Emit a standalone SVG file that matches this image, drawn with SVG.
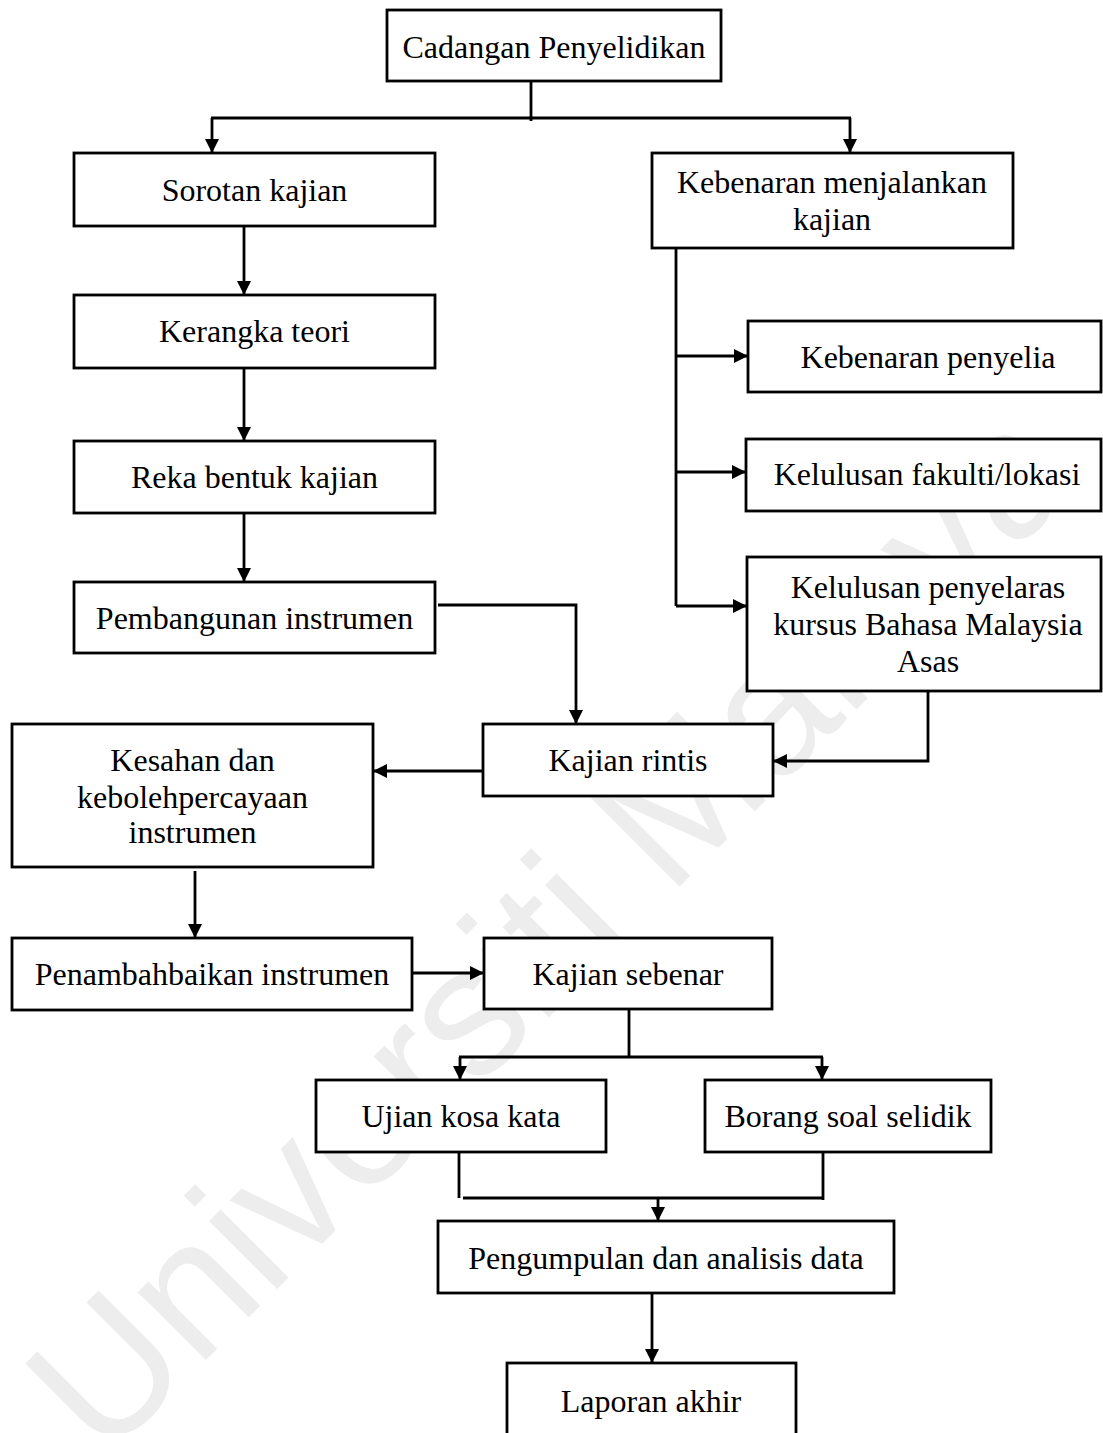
<svg xmlns="http://www.w3.org/2000/svg" width="1103" height="1433" viewBox="0 0 1103 1433">
<defs>
<marker id="ah" markerWidth="14" markerHeight="14" refX="14" refY="7" orient="auto" markerUnits="userSpaceOnUse">
<path d="M0,0 L14,7 L0,14 Z" fill="#000"/>
</marker>
<style>
.box{fill:#fff;stroke:#000;stroke-width:2.8}
.t{font-family:"Liberation Serif","Times New Roman",serif;font-size:32px;fill:#000;text-anchor:middle}
.c{fill:none;stroke:#000;stroke-width:2.8}
.wm{font-family:"Liberation Sans",Arial,sans-serif;font-size:182px;fill:#ededed}
</style>
</defs>
<rect width="1103" height="1433" fill="#fff"/>
<text class="wm" x="104" y="1462" transform="rotate(-45 104 1462)">Universiti Malaya</text>

<g id="connectors">
<path class="c" d="M531,81 V121"/>
<path class="c" d="M211,118 H851"/>
<path class="c" d="M212,118 V153" marker-end="url(#ah)"/>
<path class="c" d="M850,118 V153" marker-end="url(#ah)"/>
<path class="c" d="M244,226 V295" marker-end="url(#ah)"/>
<path class="c" d="M244,368 V441" marker-end="url(#ah)"/>
<path class="c" d="M244,513 V582" marker-end="url(#ah)"/>
<path class="c" d="M438,605 H576 V724" marker-end="url(#ah)"/>
<path class="c" d="M676,248 V606"/>
<path class="c" d="M676,356 H748" marker-end="url(#ah)"/>
<path class="c" d="M676,472 H746" marker-end="url(#ah)"/>
<path class="c" d="M676,606 H747" marker-end="url(#ah)"/>
<path class="c" d="M928,691 V761 H773" marker-end="url(#ah)"/>
<path class="c" d="M483,771 H373" marker-end="url(#ah)"/>
<path class="c" d="M195,871 V938" marker-end="url(#ah)"/>
<path class="c" d="M412,973 H484" marker-end="url(#ah)"/>
<path class="c" d="M629,1009 V1057"/>
<path class="c" d="M459,1057 H823"/>
<path class="c" d="M460,1057 V1080" marker-end="url(#ah)"/>
<path class="c" d="M822,1057 V1080" marker-end="url(#ah)"/>
<path class="c" d="M459,1151 V1198"/>
<path class="c" d="M463,1198 H823"/>
<path class="c" d="M823,1153 V1200"/>
<path class="c" d="M658,1198 V1221" marker-end="url(#ah)"/>
<path class="c" d="M652,1293 V1363" marker-end="url(#ah)"/>
</g>

<g id="n1"><rect class="box" x="387" y="10" width="334" height="71"/><text class="t" x="554" y="58">Cadangan Penyelidikan</text></g>
<g id="n2"><rect class="box" x="74" y="153" width="361" height="73"/><text class="t" x="254.5" y="201">Sorotan kajian</text></g>
<g id="n3"><rect class="box" x="74" y="295" width="361" height="73"/><text class="t" x="254.5" y="342">Kerangka teori</text></g>
<g id="n4"><rect class="box" x="74" y="441" width="361" height="72"/><text class="t" x="254.5" y="488">Reka bentuk kajian</text></g>
<g id="n5"><rect class="box" x="74" y="582" width="361" height="71"/><text class="t" x="254.5" y="629">Pembangunan instrumen</text></g>
<g id="n6"><rect class="box" x="652" y="153" width="361" height="95"/><text class="t" x="832" y="193">Kebenaran menjalankan</text><text class="t" x="832" y="230">kajian</text></g>
<g id="n7"><rect class="box" x="748" y="321" width="353" height="71"/><text class="t" x="928" y="368">Kebenaran penyelia</text></g>
<g id="n8"><rect class="box" x="746" y="439" width="355" height="72"/><text class="t" x="927" y="485">Kelulusan fakulti/lokasi</text></g>
<g id="n9"><rect class="box" x="747" y="557" width="354" height="134"/><text class="t" x="928" y="598">Kelulusan penyelaras</text><text class="t" x="928" y="635">kursus Bahasa Malaysia</text><text class="t" x="928" y="672">Asas</text></g>
<g id="n10"><rect class="box" x="483" y="724" width="290" height="72"/><text class="t" x="628" y="771">Kajian rintis</text></g>
<g id="n11"><rect class="box" x="12" y="724" width="361" height="143"/><text class="t" x="192.5" y="771">Kesahan dan</text><text class="t" x="192.5" y="808">kebolehpercayaan</text><text class="t" x="192.5" y="843">instrumen</text></g>
<g id="n12"><rect class="box" x="12" y="938" width="400" height="72"/><text class="t" x="212" y="985">Penambahbaikan instrumen</text></g>
<g id="n13"><rect class="box" x="484" y="938" width="288" height="71"/><text class="t" x="628" y="985">Kajian sebenar</text></g>
<g id="n14"><rect class="box" x="316" y="1080" width="290" height="72"/><text class="t" x="461" y="1127">Ujian kosa kata</text></g>
<g id="n15"><rect class="box" x="705" y="1080" width="286" height="72"/><text class="t" x="848" y="1127">Borang soal selidik</text></g>
<g id="n16"><rect class="box" x="438" y="1221" width="456" height="72"/><text class="t" x="666" y="1269">Pengumpulan dan analisis data</text></g>
<g id="n17"><rect class="box" x="507" y="1363" width="289" height="80"/><text class="t" x="651" y="1412">Laporan akhir</text></g>
</svg>
